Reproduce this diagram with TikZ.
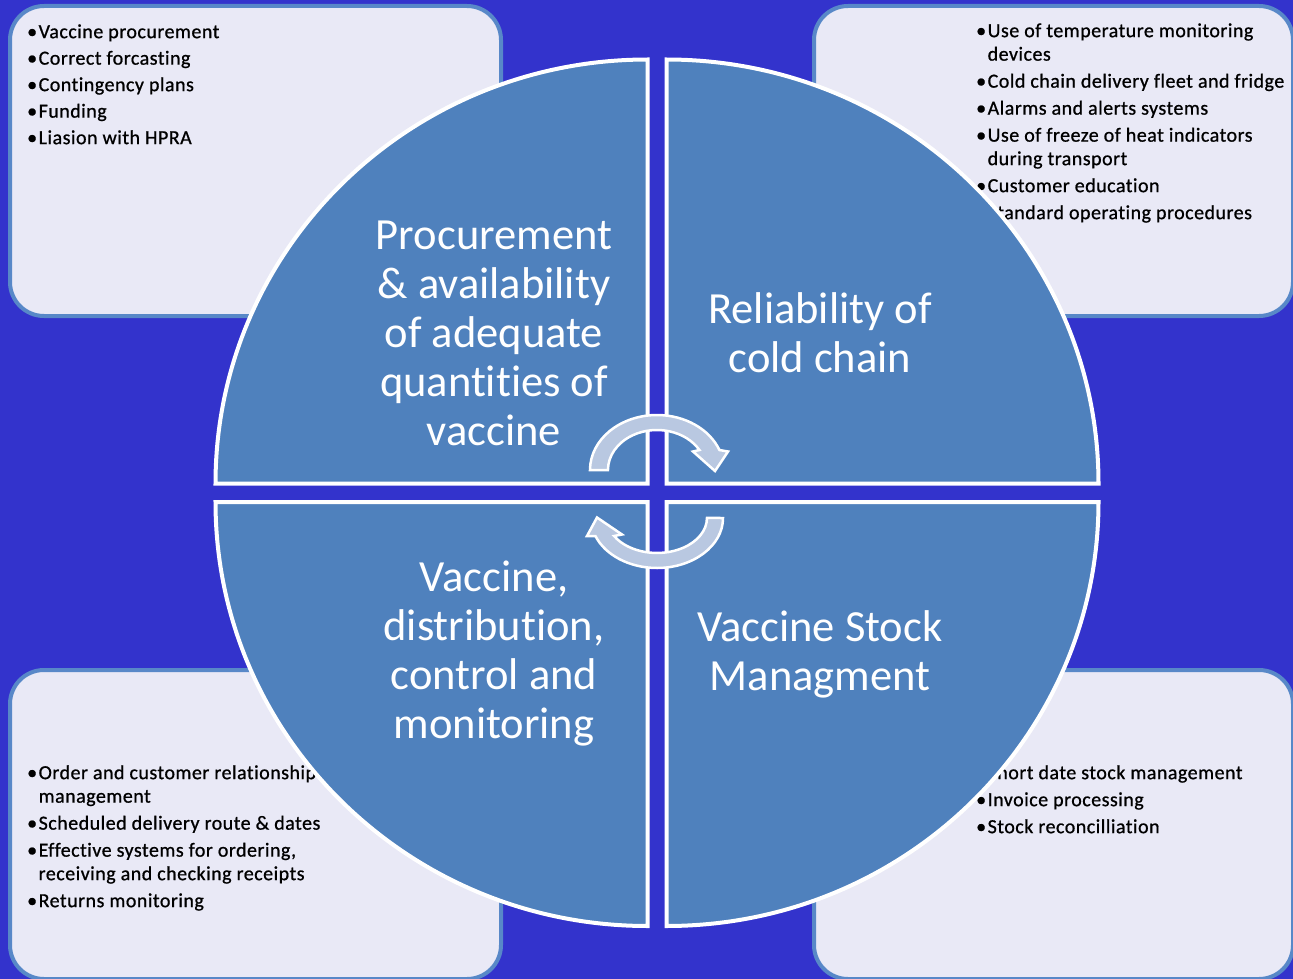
\documentclass[tikz,border=0pt]{standalone}
\usepackage{fontspec}
\setmainfont[Ligatures=NoCommon]{Carlito}
\newfontfamily\listfont[LetterSpace=2.4,FakeBold=0.8,Ligatures=NoCommon]{Carlito}
\definecolor{bg}{RGB}{51,51,204}
\definecolor{boxfill}{RGB}{233,233,246}
\definecolor{boxline}{RGB}{88,136,200}
\definecolor{quad}{RGB}{79,129,189}
\definecolor{arrowfill}{RGB}{185,200,225}
\begin{document}
\begin{tikzpicture}[x=1pt,y=-1pt,
  box/.style={draw=boxline, fill=boxfill, line width=4pt, rounded corners=34pt, inner sep=0pt},
  quadrant/.style={fill=quad, draw=white, line width=4pt, line join=miter},
  cyclearrow/.style={fill=arrowfill, draw=white, line width=2.5pt, line join=miter},
  quadtext/.style={text=white, align=center, font=\fontsize{44.5}{49}\selectfont, inner sep=0pt},
  listtext/.style={text=black, anchor=north west, inner sep=0pt, font=\listfont\fontsize{20}{23.5}\selectfont}]
\useasboundingbox (0,0) rectangle (1293,979);
\fill[bg] (0,0) rectangle (1293,979);

% corner boxes
\node[box, minimum width=491pt, minimum height=310pt] (tlbox) at (255.5,161) {};
\node[box, minimum width=479pt, minimum height=310pt] (trbox) at (1053.5,161) {};
\node[box, minimum width=491pt, minimum height=309pt] (blbox) at (255.5,824.5) {};
\node[box, minimum width=479pt, minimum height=309pt] (brbox) at (1053.5,824.5) {};

% lists
\node[listtext] (tllist) at (27,21.5) {\begin{tabular}{@{}l@{\hspace{1.5pt}}l@{}}
\textbullet & Vaccine procurement\\[3pt]
\textbullet & Correct forcasting\\[3pt]
\textbullet & Contingency plans\\[3pt]
\textbullet & Funding\\[3pt]
\textbullet & Liasion with HPRA
\end{tabular}};

\node[listtext] (trlist) at (976,20.5) {\begin{tabular}{@{}l@{\hspace{1.5pt}}l@{}}
\textbullet & Use of temperature monitoring\\
 & devices\\[3.5pt]
\textbullet & Cold chain delivery fleet and fridge\\[3.5pt]
\textbullet & Alarms and alerts systems\\[3.5pt]
\textbullet & Use of freeze of heat indicators\\
 & during transport\\[3.5pt]
\textbullet & Customer education\\[3.5pt]
\textbullet & Standard operating procedures
\end{tabular}};

\node[listtext] (bllist) at (27,762.5) {\begin{tabular}{@{}l@{\hspace{1.5pt}}l@{}}
\textbullet & Order and customer relationship\\
 & management\\[3.5pt]
\textbullet & Scheduled delivery route \& dates\\[3.5pt]
\textbullet & Effective systems for ordering,\\
 & receiving and checking receipts\\[3.5pt]
\textbullet & Returns monitoring
\end{tabular}};

\node[listtext] (brlist) at (976,762.5) {\begin{tabular}{@{}l@{\hspace{1.5pt}}l@{}}
\textbullet & Short date stock management\\[3.5pt]
\textbullet & Invoice processing\\[3.5pt]
\textbullet & Stock reconcilliation
\end{tabular}};

% quadrants
\coordinate (ctl) at (647.5,483.5);
\coordinate (ctr) at (666.5,483.5);
\coordinate (cbl) at (647.5,502);
\coordinate (cbr) at (666.5,502);
\draw[quadrant] (ctl) -- ++(-432,0) arc[start angle=180, end angle=270, x radius=432, y radius=424] -- cycle;
\draw[quadrant] (ctr) -- ++(0,-424) arc[start angle=270, end angle=360, x radius=432, y radius=424] -- cycle;
\draw[quadrant] (cbl) -- ++(-432,0) arc[start angle=180, end angle=90, x radius=432, y radius=424] -- cycle;
\draw[quadrant] (cbr) -- ++(0,424) arc[start angle=90, end angle=0, x radius=432, y radius=424] -- cycle;

% quadrant titles
\node[quadtext] (tltext) at (494,333) {Procurement\\ \& availability\\ of adequate\\ quantities of\\ vaccine};
\node[quadtext] (trtext) at (820,333) {Reliability of\\ cold chain};
\node[quadtext] (bltext) at (494,654) {Vaccine,\\ distribution,\\ control and\\ monitoring};
\node[quadtext] (brtext) at (820,654) {Vaccine Stock\\ Managment};

% cycle arrows
\draw[cyclearrow] (590,470) arc[start angle=180, end angle=338.7, x radius=67, y radius=55]
  -- (728,451.5) -- (715,471) -- (693,451.5) -- (699.4,450)
  arc[start angle=330, end angle=180, x radius=49, y radius=40] -- cycle;
\draw[cyclearrow] (723,518) arc[start angle=0, end angle=158.9, x radius=66, y radius=50]
  -- (587,536) -- (597,517.5) -- (622,534.5) -- (614.1,536)
  arc[start angle=149, end angle=0, x radius=50, y radius=35] -- cycle;
\end{tikzpicture}
\end{document}
